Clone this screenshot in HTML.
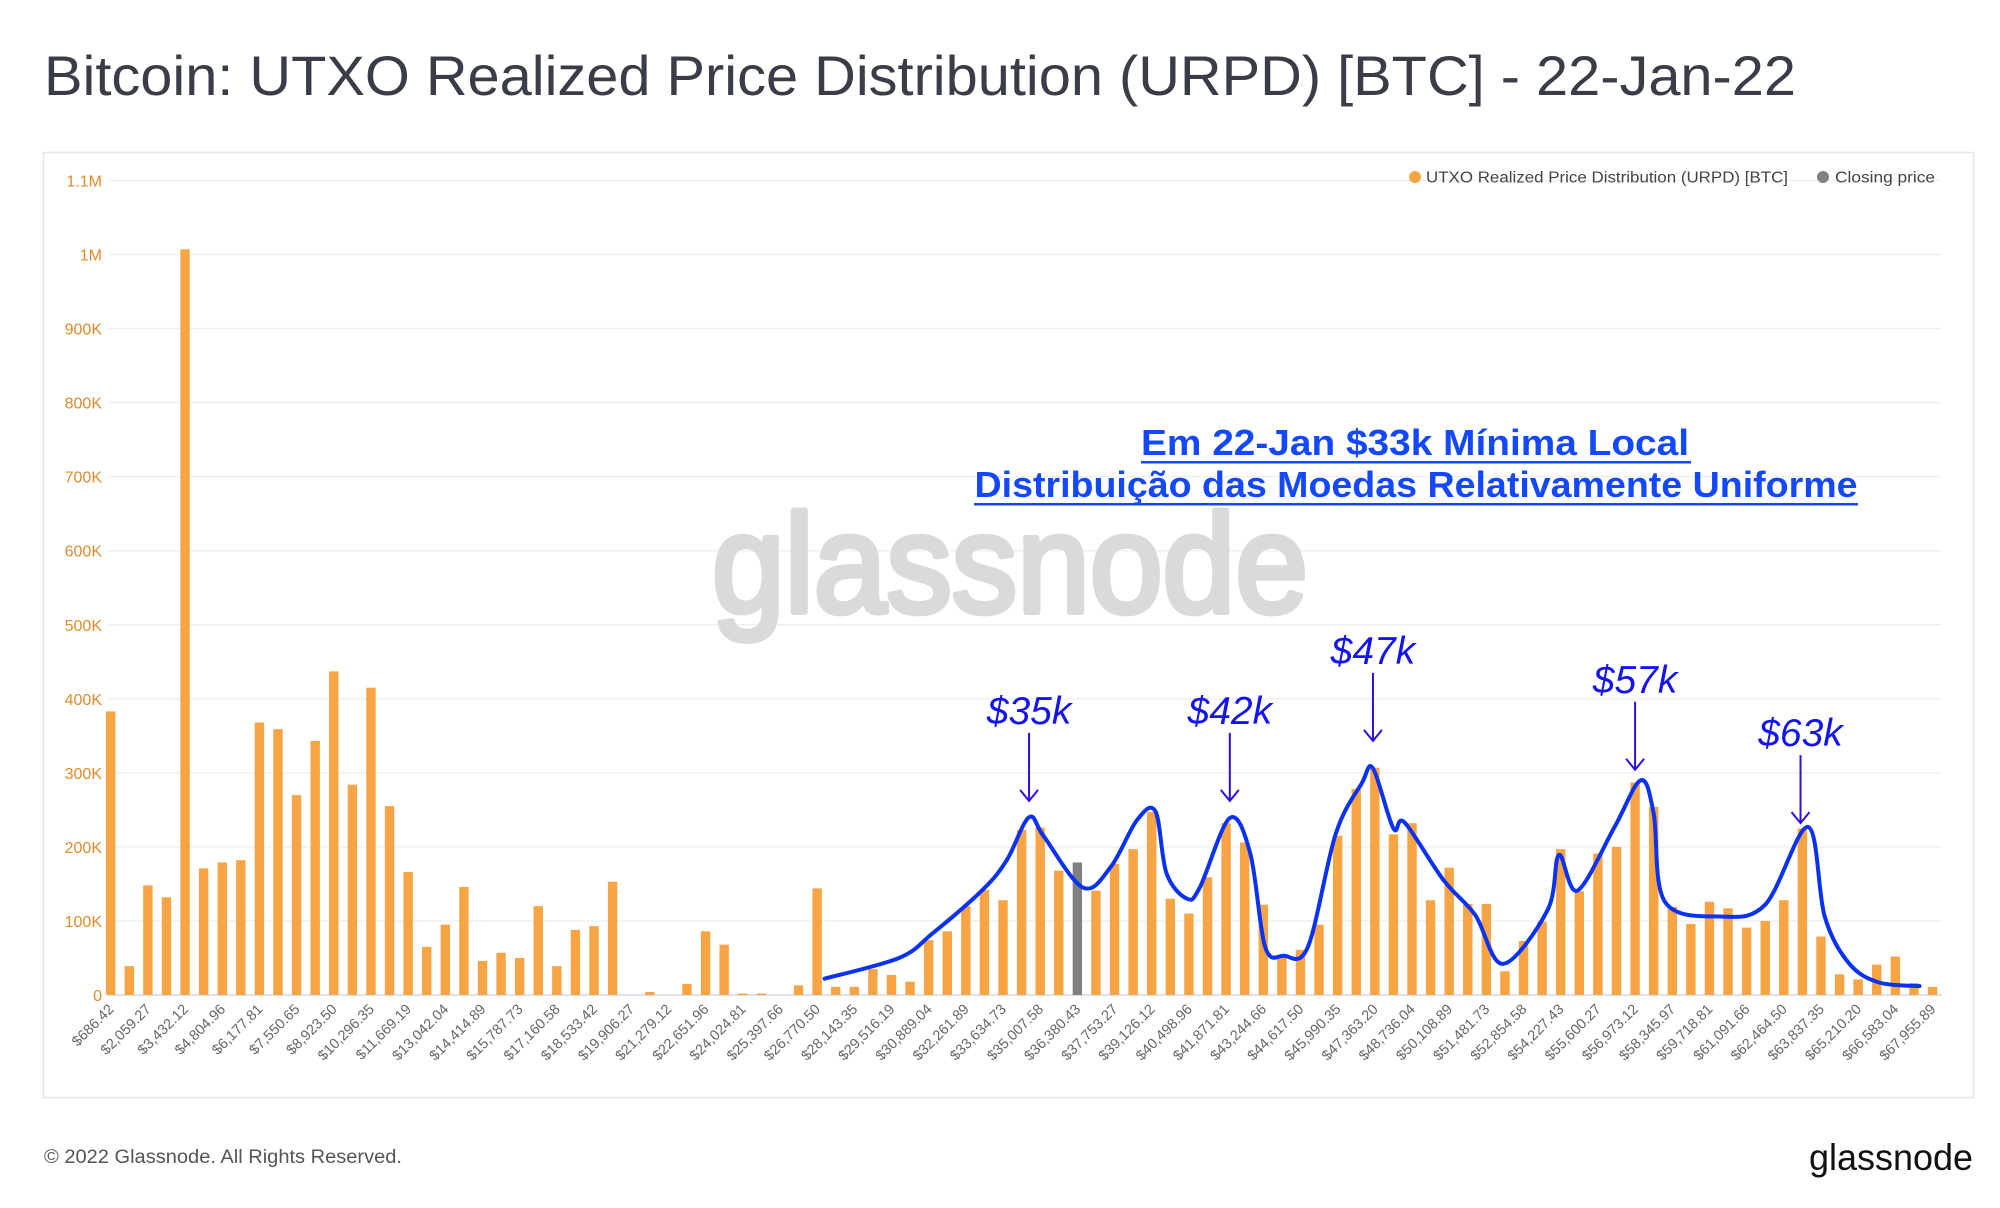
<!DOCTYPE html>
<html><head><meta charset="utf-8"><style>
body{margin:0;background:#fff;width:2000px;height:1208px;overflow:hidden}
svg{display:block;font-family:"Liberation Sans",sans-serif}
</style></head><body>
<svg id="chart" width="2000" height="1208" viewBox="0 0 2000 1208" xmlns="http://www.w3.org/2000/svg">
<text x="44" y="95" font-size="56" fill="#3a3d47" textLength="1752" lengthAdjust="spacingAndGlyphs">Bitcoin: UTXO Realized Price Distribution (URPD) [BTC] - 22-Jan-22</text>
<rect x="43.5" y="152.5" width="1930" height="945" fill="none" stroke="#e6e6e6" stroke-width="1.5"/>
<g id="grid"></g>
<text x="712" y="612" font-size="140" fill="#dadada" stroke="#dadada" stroke-width="6" stroke-linejoin="round" textLength="596" lengthAdjust="spacingAndGlyphs">glassnode</text>
<g id="bars"></g>
<g id="xlabels"></g>
<g id="ylabels"></g>
<path id="curve" fill="none" stroke="#0a32f5" stroke-width="4" stroke-linejoin="round" stroke-linecap="round"/>
<g id="annots"></g>
<g>
<circle cx="1415" cy="177" r="6" fill="#f7a444"/>
<text x="1426" y="182.5" font-size="15.5" fill="#444" textLength="362" lengthAdjust="spacingAndGlyphs">UTXO Realized Price Distribution (URPD) [BTC]</text>
<circle cx="1823" cy="177" r="6" fill="#808080"/>
<text x="1835" y="182.5" font-size="15.5" fill="#444" textLength="100" lengthAdjust="spacingAndGlyphs">Closing price</text>
</g>
<g font-weight="bold" font-size="36" fill="#1448ff" text-anchor="middle">
<text x="1415" y="455" textLength="548" lengthAdjust="spacingAndGlyphs">Em 22-Jan $33k Mínima Local</text>
<rect x="1141" y="461" width="550" height="2.5" fill="#1448ff"/>
<text x="1416" y="497" textLength="883" lengthAdjust="spacingAndGlyphs">Distribuição das Moedas Relativamente Uniforme</text>
<rect x="974" y="503" width="884" height="2.5" fill="#1448ff"/>
</g>
<text x="44" y="1163" font-size="19" fill="#555" textLength="358" lengthAdjust="spacingAndGlyphs">© 2022 Glassnode. All Rights Reserved.</text>
<text x="1809" y="1170" font-size="37" fill="#111" textLength="164" lengthAdjust="spacingAndGlyphs">glassnode</text>
</svg>
<script>
const values = [383,39,148,132,1007,171,179,182,368,359,270,343,437,284,415,255,166,65,95,146,46,57,50,120,39,88,93,153,0,4,0,15,86,68,2,2,0,13,144,11,11,35,27,18,74,86,120,142,128,223,226,168,179,141,177,197,247,130,110,159,232,206,122,52,61,95,215,278,307,217,232,128,172,123,123,32,73,99,197,140,191,200,287,254,119,96,126,117,91,100,128,225,79,28,21,41,52,16,11];
const closingIndex = 52;
const yTicks = [0,100,200,300,400,500,600,700,800,900,1000,1100];
const yTickLabels = ["0","100K","200K","300K","400K","500K","600K","700K","800K","900K","1M","1.1M"];
const xTickLabels = ["$686.42","$2,059.27","$3,432.12","$4,804.96","$6,177.81","$7,550.65","$8,923.50","$10,296.35","$11,669.19","$13,042.04","$14,414.89","$15,787.73","$17,160.58","$18,533.42","$19,906.27","$21,279.12","$22,651.96","$24,024.81","$25,397.66","$26,770.50","$28,143.35","$29,516.19","$30,889.04","$32,261.89","$33,634.73","$35,007.58","$36,380.43","$37,753.27","$39,126.12","$40,498.96","$41,871.81","$43,244.66","$44,617.50","$45,990.35","$47,363.20","$48,736.04","$50,108.89","$51,481.73","$52,854.58","$54,227.43","$55,600.27","$56,973.12","$58,345.97","$59,718.81","$61,091.66","$62,464.50","$63,837.35","$65,210.20","$66,583.04","$67,955.89"];
const curveIdx = [38.4,42.4,44.2,46.9,48.2,49.4,50.2,52.3,53.8,55.2,56.2,56.8,57.9,58.6,60.2,61.3,62.1,63.1,64.4,65.9,67.3,67.9,69.0,69.6,71.7,73.4,74.9,77.3,77.9,78.9,80.9,82.3,83.0,83.6,86.6,89.0,91.3,92.2,93.5,95.1,97.3];
const curveVal = [22,50,83,142,182,240,214,145,173,236,248,164,130,146,239,191,65,53,65,218,286,306,225,233,155,108,42,115,189,141,227,290,245,126,106,122,227,106,43,17,12];
const peakLabels = ["$35k","$42k","$47k","$57k","$63k"];
const peakIdx = [49.4,60.2,67.9,82.0,90.9];
const peakTopVal = [354,354,435,396,324];

const NS="http://www.w3.org/2000/svg";
const X0=110.7, DX=18.59, Y0=995, KY=0.7405;
function xs(i){return X0+i*DX;}
function ys(v){return Y0-v*KY;}
function mk(tag,attrs,parent){const e=document.createElementNS(NS,tag);for(const k in attrs)e.setAttribute(k,attrs[k]);parent.appendChild(e);return e;}

const grid=document.getElementById('grid'), yl=document.getElementById('ylabels');
yTicks.forEach((t,k)=>{
  const l=mk('line',{x1:108,x2:1942,y1:ys(t),y2:ys(t),stroke:t===0?'#dde0ee':'#f0f0f0','stroke-width':t===0?2:1.5},grid);
  
  
  const tx=mk('text',{x:102,y:ys(t)+6,'text-anchor':'end','font-size':16,fill:'#e08a2c'},yl);
  tx.textContent=yTickLabels[k];
  
  
});
const bars=document.getElementById('bars');
values.forEach((v,i)=>{
  const r=mk('rect',{x:xs(i)-4.7,y:ys(v),width:9.4,height:Math.max(0,v*KY),fill:i===closingIndex?'#808080':'#f7a444'},bars);
  
  
});
const xl=document.getElementById('xlabels');
xTickLabels.forEach((s,k)=>{
  const i=k*2, x=xs(i)+4, y=1010;
  const t=mk('text',{x:x,y:y,'text-anchor':'end','font-size':14.5,fill:'#666',transform:'rotate(-45 '+x+' '+y+')'},xl);
  t.textContent=s;
  
  
});
const pts=curveIdx.map((c,k)=>[xs(c),ys(curveVal[k])]);
let d='M'+pts[0][0]+' '+pts[0][1];
for(let k=0;k<pts.length-1;k++){
  const p0=pts[Math.max(0,k-1)],p1=pts[k],p2=pts[k+1],p3=pts[Math.min(pts.length-1,k+2)];
  const c1=[p1[0]+(p2[0]-p0[0])/6,p1[1]+(p2[1]-p0[1])/6];
  const c2=[p2[0]-(p3[0]-p1[0])/6,p2[1]-(p3[1]-p1[1])/6];
  d+=' C'+c1[0].toFixed(1)+' '+c1[1].toFixed(1)+' '+c2[0].toFixed(1)+' '+c2[1].toFixed(1)+' '+p2[0].toFixed(1)+' '+p2[1].toFixed(1);
}
document.getElementById('curve').setAttribute('d',d);
const an=document.getElementById('annots');
peakLabels.forEach((s,k)=>{
  const x=xs(peakIdx[k]), top=ys(peakTopVal[k]);
  const yEnd=top+68;
  const t=mk('text',{x:x,y:top-9,'text-anchor':'middle','font-size':39,'font-style':'italic',fill:'#1414f0'},an);
  t.textContent=s;
  
  
  const a=mk('path',{d:'M'+x+' '+top+' L'+x+' '+yEnd+' M'+(x-9)+' '+(yEnd-11)+' L'+x+' '+yEnd+' L'+(x+9)+' '+(yEnd-11),fill:'none',stroke:'#2a10e8','stroke-width':2},an);
  
  
});
</script>
</body></html>
